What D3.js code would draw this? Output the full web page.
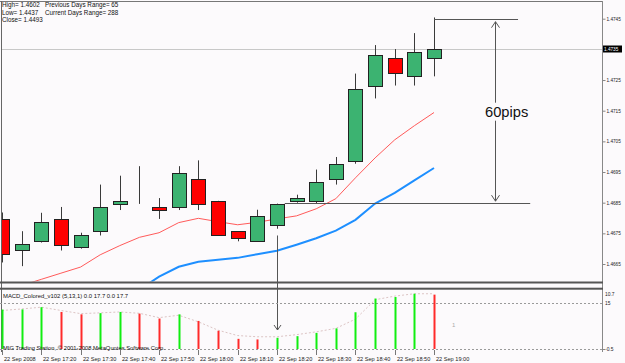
<!DOCTYPE html>
<html>
<head>
<meta charset="utf-8">
<script src="https://cdn.jsdelivr.net/npm/d3@7/dist/d3.min.js"></script>
<style>
body { margin: 0; background: #fcfafc; }
svg { display: block; font-family: "Liberation Sans", Arial, sans-serif; }
</style>
</head>
<body>
<div id="chart"></div>
<script>
// 5 minute bars, 22 Sep 2008
var times = ["17:10","17:15","17:20","17:25","17:30","17:35","17:40","17:45","17:50","17:55","18:00","18:05",
             "18:10","18:15","18:20","18:25","18:30","18:35","18:40","18:45","18:50","18:55","19:00"];
var opens  = [1.46797,1.46695,1.46724,1.46797,1.46704,1.46757,1.46847,1.46847,1.46836,1.46836,1.46927,1.46856,
              1.46757,1.46724,1.46776,1.46857,1.46854,1.46927,1.46987,1.47232,1.47322,1.47262,1.47322];
var highs  = [1.46818,1.46757,1.46817,1.46836,1.46752,1.46909,1.46938,1.46969,1.46865,1.46969,1.46988,1.46856,
              1.46757,1.46827,1.46847,1.46876,1.46958,1.46999,1.47271,1.47364,1.47351,1.47403,1.47454];
var lows   = [1.46655,1.46643,1.46720,1.46694,1.46700,1.46743,1.46826,1.46846,1.46797,1.46826,1.46826,1.46743,
              1.46724,1.46724,1.46765,1.46850,1.46849,1.46909,1.46977,1.47190,1.47232,1.47232,1.47262];
var closes = [1.46684,1.46716,1.46786,1.46713,1.46746,1.46836,1.46857,1.46847,1.46826,1.46947,1.46845,1.46746,
              1.46735,1.46805,1.46846,1.46865,1.46918,1.46977,1.47221,1.47332,1.47273,1.47341,1.47350];

var maFast = [1.46560,1.46580,1.46600,1.46620,1.46640,1.46680,1.46710,1.46737,1.46752,1.46785,1.46799,1.46788,
              1.46778,1.46786,1.46797,1.46807,1.46830,1.46863,1.46931,1.46996,1.47055,1.47101,1.47144];
var maSlow = [1.46380,1.46410,1.46440,1.46470,1.46500,1.46520,1.46545,1.46566,1.46609,1.46641,1.46657,1.46664,
              1.46670,1.46682,1.46693,1.46713,1.46734,1.46759,1.46794,1.46847,1.46882,1.46923,1.46963];

var macd   = [12.7,12.75,13.5,11.9,11.1,11.5,11.9,11.35,9.7,11.1,8.9,5.6,
              2.9,2.7,3.25,3.8,4.9,6.4,11.8,16.4,16.9,18.0,17.7];
var signal = [12.4,12.9,13.5,12.4,11.35,11.6,11.9,11.45,10.0,10.8,8.6,5.8,
              4.0,3.6,3.6,4.3,5.24,6.4,9.5,16.0,17.2,18.0,18.0];

var priceTicks = [1.4665,1.4675,1.4685,1.4695,1.4705,1.4715,1.4725,1.4745];
var currentPrice = 1.4735;
var macdTicks = [18.0, 15, -0.5];
var macdTickLabels = ["10.7", "15", "-0.5"];
var timeLabelIdx = [0,2,4,6,8,10,12,14,16,18,20,22];
var timeLabels = ["22 Sep 2008","22 Sep 17:20","22 Sep 17:30","22 Sep 17:40","22 Sep 17:50","22 Sep 18:00",
                  "22 Sep 18:10","22 Sep 18:20","22 Sep 18:30","22 Sep 18:40","22 Sep 18:50","22 Sep 19:00"];
var headerLeft = ["High= 1.4602", "Low= 1.4437", "Close= 1.4493"];
var headerRight = ["Previous Days Range= 65", "Current Days Range= 288"];

var width = 625, height = 363;
var axisX = 602;

var svg = d3.select("#chart").append("svg")
    .attr("width", width)
    .attr("height", height);

svg.append("rect").attr("width", width).attr("height", height).attr("fill", "#fcfafc");

var x = d3.scaleLinear().domain([0, 22]).range([2, 434]);
var y = d3.scaleLinear().domain([1.4665, 1.4745]).range([264, 18.7]);
var ym = d3.scaleLinear().domain([-0.5, 15]).range([349, 302.7]);

var defs = svg.append("defs");
defs.append("clipPath").attr("id", "mainClip")
    .append("rect").attr("x", 2).attr("y", 2).attr("width", axisX - 2).attr("height", 279.5);

var main = svg.append("g").attr("clip-path", "url(#mainClip)");

// current price line
main.append("line")
    .attr("x1", 0).attr("x2", axisX)
    .attr("y1", Math.round(y(currentPrice)) + 0.5).attr("y2", Math.round(y(currentPrice)) + 0.5)
    .attr("stroke", "#c8c8c8");

// moving averages
var lineFn = function(arr) {
    return d3.line()
        .x(function(d, i) { return x(i); })
        .y(function(d) { return y(d); })(arr);
};
main.append("path").attr("d", lineFn(maFast))
    .attr("fill", "none").attr("stroke", "#ff5a5a").attr("stroke-width", 1);
main.append("path").attr("d", lineFn(maSlow))
    .attr("fill", "none").attr("stroke", "#1e8fff").attr("stroke-width", 2);

// candles
var candles = main.selectAll(".candle")
    .data(times)
    .enter().append("g")
    .attr("class", "candle");

candles.append("line")
    .attr("x1", function(d, i) { return Math.round(x(i)) + 0.5; })
    .attr("x2", function(d, i) { return Math.round(x(i)) + 0.5; })
    .attr("y1", function(d, i) { return y(highs[i]); })
    .attr("y2", function(d, i) { return y(lows[i]); })
    .attr("stroke", "#3a3a3a");

candles.append("rect")
    .attr("x", function(d, i) { return Math.round(x(i)) - 7 + 0.5; })
    .attr("y", function(d, i) { return Math.round(y(Math.max(opens[i], closes[i]))) + 0.5; })
    .attr("width", 14)
    .attr("height", function(d, i) {
        return Math.max(0, Math.round(y(Math.min(opens[i], closes[i]))) - Math.round(y(Math.max(opens[i], closes[i]))));
    })
    .attr("fill", function(d, i) { return closes[i] >= opens[i] ? "#3cb371" : "#ff0000"; })
    .attr("stroke", "#222");

// annotation lines (price / bar coordinates)
var ann = svg.append("g").attr("stroke", "#555").attr("fill", "none");
ann.append("line")
    .attr("x1", x(22)).attr("x2", x(26.28))
    .attr("y1", Math.round(y(1.4745)) + 0.5).attr("y2", Math.round(y(1.4745)) + 0.5);
ann.append("line")
    .attr("x1", x(14.4)).attr("x2", x(26.9))
    .attr("y1", Math.round(y(1.4685)) + 0.5).attr("y2", Math.round(y(1.4685)) + 0.5);

var ax = Math.round(x(25.1)) + 0.5;
var aTop = y(1.4745) + 3, aBot = y(1.4685) - 1.5;
ann.append("line").attr("x1", ax).attr("x2", ax).attr("y1", aTop).attr("y2", aBot);
ann.append("path").attr("d", "M" + (ax - 4) + "," + (aTop + 6) + "L" + ax + "," + aTop + "L" + (ax + 4) + "," + (aTop + 6));
ann.append("path").attr("d", "M" + (ax - 4) + "," + (aBot - 6) + "L" + ax + "," + aBot + "L" + (ax + 4) + "," + (aBot - 6));

var labelX = x(25.7), labelY = y(1.4715) + 1;
svg.append("rect")
    .attr("x", labelX - 23).attr("y", labelY - 9).attr("width", 46).attr("height", 18)
    .attr("fill", "#fcfafc");
svg.append("text")
    .attr("x", labelX).attr("y", labelY + 5.5)
    .attr("text-anchor", "middle")
    .attr("font-size", "14.7px")
    .attr("fill", "#111")
    .text("60pips");

// header info
var header = svg.append("g").attr("font-size", "6.3px").attr("fill", "#111");
header.selectAll(".hl").data(headerLeft).enter().append("text")
    .attr("x", 2).attr("y", function(d, i) { return 7.3 + i * 7.3; })
    .text(function(d) { return d; });
header.selectAll(".hr").data(headerRight).enter().append("text")
    .attr("x", 45).attr("y", function(d, i) { return 7.3 + i * 7.3; })
    .text(function(d) { return d; });

// frame and separators
svg.append("line").attr("x1", 0).attr("x2", axisX).attr("y1", 1.5).attr("y2", 1.5).attr("stroke", "#777");
svg.append("line").attr("x1", 1.5).attr("x2", 1.5).attr("y1", 1).attr("y2", 352).attr("stroke", "#666");
svg.append("line").attr("x1", axisX + 0.5).attr("x2", axisX + 0.5).attr("y1", 1).attr("y2", 352).attr("stroke", "#888");
svg.append("rect").attr("x", 0).attr("y", 281.5).attr("width", axisX + 1).attr("height", 2).attr("fill", "#555");
svg.append("rect").attr("x", 0).attr("y", 287.7).attr("width", axisX + 1).attr("height", 2).attr("fill", "#555");

// price axis
var yAxis = d3.axisRight(y)
    .tickValues(priceTicks)
    .tickSize(3)
    .tickPadding(1)
    .tickFormat(d3.format(".4f"));
var gy = svg.append("g").attr("transform", "translate(" + (axisX + 0.5) + ",0)").call(yAxis);
gy.select(".domain").remove();
gy.selectAll("line").attr("stroke", "#888");
gy.selectAll("text").attr("font-size", "4.7px").attr("font-family", "Liberation Sans, Arial, sans-serif").attr("fill", "#222");

var cpY = Math.round(y(currentPrice));
svg.append("rect").attr("x", axisX + 1).attr("y", cpY - 3.5).attr("width", 19).attr("height", 7).attr("fill", "#000");
svg.append("text").attr("x", axisX + 2).attr("y", cpY + 2)
    .attr("font-size", "4.7px").attr("fill", "#fff").text(d3.format(".4f")(currentPrice));

// MACD panel
var panel = svg.append("g");
panel.selectAll(".lvl").data([15, -0.5]).enter().append("line")
    .attr("x1", 0).attr("x2", axisX)
    .attr("y1", function(d) { return Math.round(ym(d)) + 0.5; })
    .attr("y2", function(d) { return Math.round(ym(d)) + 0.5; })
    .attr("stroke", "#9a9a9a").attr("stroke-dasharray", "2,2");

panel.append("path")
    .attr("d", d3.line().x(function(d, i) { return x(i); }).y(function(d) { return ym(d); })(signal))
    .attr("fill", "none").attr("stroke", "#dcc4c4").attr("stroke-dasharray", "2,2");

panel.selectAll(".bar").data(macd).enter().append("rect")
    .attr("x", function(d, i) { return Math.round(x(i)) - 0.5; })
    .attr("y", function(d) { return ym(d); })
    .attr("width", 2)
    .attr("height", function(d) { return ym(-0.5) - ym(d); })
    .attr("fill", function(d, i) { return (i === 0 || d >= macd[i - 1]) ? "#11ee11" : "#ff2a2a"; });

var gm = panel.append("g").attr("font-size", "4.9px").attr("fill", "#222");
gm.selectAll("text").data(macdTicks).enter().append("text")
    .attr("x", axisX + 3).attr("y", function(d) { return ym(d) + 2; })
    .text(function(d, i) { return macdTickLabels[i]; });
gm.append("line").attr("x1", axisX).attr("x2", axisX + 3)
    .attr("y1", Math.round(ym(-0.5)) + 0.5).attr("y2", Math.round(ym(-0.5)) + 0.5).attr("stroke", "#888");

panel.append("text").attr("x", 3).attr("y", 297.6).attr("font-size", "5.9px").attr("fill", "#111")
    .text("MACD_Colored_v102 (5,13,1) 0.0 17.7 0.0 17.7");
panel.append("text").attr("x", 3).attr("y", 349.6).attr("font-size", "5.8px").attr("fill", "#111")
    .text("MIG Trading Station, \u00a9 2001-2008 MetaQuotes Software Corp.");
panel.append("text").attr("x", 452).attr("y", 327).attr("font-size", "6px").attr("fill", "#aaa").text("1");

// down arrow from the 18:20 bar into the indicator window
var dx = Math.round(x(14)) + 0.5;
var dTop = y(1.46743), dBot = ym(5.86);
ann.append("line").attr("x1", dx).attr("x2", dx).attr("y1", dTop).attr("y2", dBot);
ann.append("path").attr("d", "M" + (dx - 3.5) + "," + (dBot - 5) + "L" + dx + "," + dBot + "L" + (dx + 3.5) + "," + (dBot - 5));

// time axis
var gt = svg.append("g");
gt.selectAll("line").data(timeLabelIdx).enter().append("line")
    .attr("x1", function(d) { return Math.round(x(d)) + 0.5; })
    .attr("x2", function(d) { return Math.round(x(d)) + 0.5; })
    .attr("y1", 350).attr("y2", 355)
    .attr("stroke", "#777");
gt.selectAll("text").data(timeLabelIdx).enter().append("text")
    .attr("x", function(d) { return Math.round(x(d)) + 2; })
    .attr("y", 361)
    .attr("font-size", "5.6px").attr("fill", "#222")
    .text(function(d, i) { return timeLabels[i]; });
</script>
</body>
</html>
